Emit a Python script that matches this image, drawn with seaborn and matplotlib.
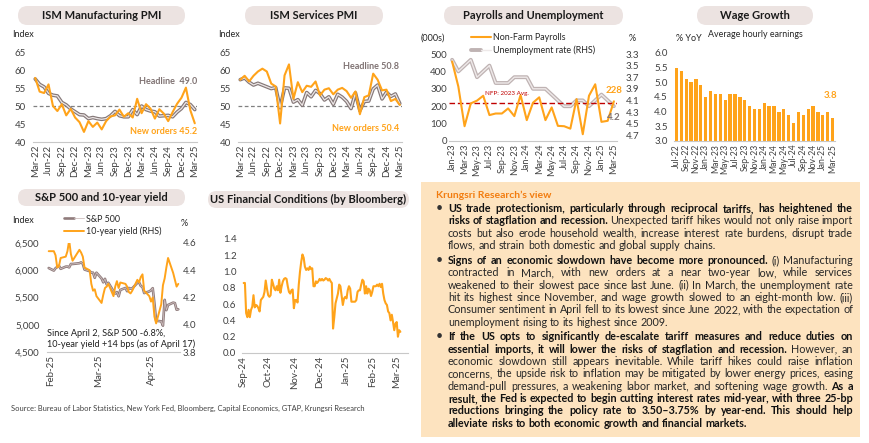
import matplotlib
matplotlib.use("Agg")
import matplotlib.pyplot as plt
import matplotlib.dates as mdates
from matplotlib.lines import Line2D
from matplotlib.legend_handler import HandlerTuple
from matplotlib.patches import FancyBboxPatch, Rectangle
from matplotlib.ticker import FuncFormatter
import seaborn as sns
import numpy as np
import pandas as pd

# ---------------- data ----------------
ism_months = pd.date_range("2022-03-01", "2025-03-01", freq="MS").strftime("%b-%y").tolist()
mfg_headline = [57.5, 56.0, 55.3, 53.5, 53.0, 52.8, 51.0, 50.3, 49.2, 48.4, 47.6, 47.5, 46.5,
                46.8, 46.5, 46.3, 46.5, 47.3, 48.5, 47.3, 47.0, 47.0, 49.0, 47.6, 50.0, 49.0,
                48.6, 48.4, 47.2, 47.3, 47.4, 47.0, 48.3, 49.3, 51.0, 50.4, 49.0]
mfg_orders = [57.8, 54.0, 53.6, 56.0, 50.0, 48.6, 50.5, 47.4, 49.2, 46.8, 45.5, 42.8, 45.8,
              44.2, 45.4, 43.5, 45.8, 47.1, 47.4, 49.0, 47.0, 48.0, 46.8, 52.0, 48.0, 50.5,
              49.3, 46.5, 49.1, 47.9, 45.8, 48.3, 50.6, 52.3, 55.1, 48.8, 45.2]
svc_headline = [57.5, 58.0, 56.8, 56.0, 56.5, 56.0, 55.5, 55.0, 55.3, 49.6, 55.2, 55.1, 51.2,
                51.9, 50.3, 53.9, 52.7, 54.5, 53.6, 51.8, 52.7, 50.6, 53.4, 52.6, 51.4, 49.4,
                53.8, 48.8, 51.4, 51.5, 54.9, 56.0, 52.1, 54.0, 52.8, 53.5, 50.8]
svc_orders = [57.5, 58.6, 57.0, 58.6, 59.8, 60.6, 59.8, 56.4, 55.6, 45.2, 58.7, 61.8, 52.1,
              56.8, 54.0, 55.8, 55.5, 57.0, 53.1, 54.7, 55.1, 53.4, 54.7, 55.2, 54.3, 52.4,
              54.2, 47.8, 52.6, 53.1, 59.2, 57.5, 54.5, 54.7, 51.5, 52.1, 50.4]

nfp_months = pd.date_range("2023-01-01", "2025-03-01", freq="MS").strftime("%b-%y").tolist()
nfp = [457, 313, 85, 216, 232, 260, 149, 158, 158, 187, 143, 264, 120, 220, 251, 120, 193,
       87, 85, 71, 241, 39, 260, 326, 110, 116, 228]
unemp = [3.4, 3.6, 3.5, 3.4, 3.7, 3.6, 3.5, 3.8, 3.8, 3.8, 3.7, 3.7, 3.7, 3.9, 3.9, 3.9, 4.0,
         4.1, 4.2, 4.2, 4.1, 4.1, 4.2, 4.1, 4.0, 4.1, 4.2]
nfp_2023_avg = 216
unemp_ticks = [3.3, 3.5, 3.7, 3.9, 4.1, 4.3, 4.5, 4.7]

wage_months = pd.date_range("2022-07-01", "2025-03-01", freq="MS").strftime("%b-%y").tolist()
wage = [5.5, 5.4, 5.1, 5.0, 5.1, 4.9, 4.5, 4.7, 4.6, 4.6, 4.4, 4.6, 4.6, 4.5, 4.4, 4.2, 4.1,
        4.1, 4.3, 4.2, 4.2, 4.0, 4.1, 3.9, 3.6, 4.0, 3.9, 4.1, 4.2, 4.0, 3.9, 4.0, 3.8]

sp_dates = pd.bdate_range("2025-01-31", "2025-04-17", freq="C", holidays=["2025-02-17"])
sp500 = [6041,
         5994, 6037, 6061, 6083, 6026, 6066, 6068, 6052, 6115, 6115, 6129, 6144, 6118, 6013,
         5983, 5955, 5956, 5861, 5955,
         5850, 5778, 5843, 5739, 5770, 5615, 5572, 5599, 5522, 5639, 5675, 5615, 5675, 5663,
         5668, 5768, 5777, 5712, 5693, 5581, 5612,
         5633, 5671, 5397, 5074, 5062, 4983, 5457, 5268, 5363, 5406, 5397, 5276, 5283]
ust10 = [4.54,
         4.54, 4.51, 4.42, 4.43, 4.49, 4.50, 4.54, 4.62, 4.52, 4.47, 4.55, 4.53, 4.50, 4.42,
         4.40, 4.30, 4.25, 4.26, 4.21,
         4.16, 4.22, 4.27, 4.28, 4.30, 4.21, 4.28, 4.32, 4.27, 4.31, 4.30, 4.28, 4.24, 4.23,
         4.25, 4.33, 4.31, 4.35, 4.37, 4.25, 4.21,
         4.17, 4.20, 4.06, 4.01, 4.15, 4.29, 4.34, 4.42, 4.49, 4.38, 4.33, 4.28, 4.30]

fci = [0.86, 0.86, 0.49, 0.44, 0.53, 0.44, 0.53, 0.57, 0.71, 0.56,
       0.59, 0.58, 0.55, 0.51, 0.65, 0.67, 0.69, 0.75, 0.89, 0.79,
       0.71, 0.69, 0.71, 0.90, 0.85, 0.79, 0.77, 0.82, 0.77, 0.90,
       0.74, 0.82, 0.88, 0.91, 0.92, 0.91, 0.82, 0.75, 0.73, 0.77,
       0.78, 0.55, 0.65, 0.65, 0.62, 0.84, 1.00, 1.12, 1.21, 1.17,
       1.06, 1.02, 1.04, 1.02, 1.06, 1.03, 1.04, 0.82, 0.82, 0.88,
       0.86, 0.88, 0.91, 0.89, 0.91, 0.89, 0.90, 0.92, 0.91, 0.89,
       0.91, 0.88, 0.86, 0.30, 0.44, 0.61, 0.67, 0.73, 0.84, 0.82,
       0.71, 0.59, 0.67, 0.69, 0.67, 0.77, 0.82, 0.79, 0.63, 0.63,
       0.63, 0.63, 0.65, 0.75, 0.77, 0.77, 0.84, 0.90, 0.88, 0.73,
       0.82, 0.73, 0.79, 0.77, 0.70, 0.75, 0.82, 0.82, 0.82, 0.84,
       0.82, 0.85, 0.81, 0.85, 0.73, 0.65, 0.61, 0.59, 0.51, 0.49,
       0.40, 0.47, 0.38, 0.28, 0.36, 0.38, 0.20, 0.28, 0.26]
fci_dates = pd.date_range("2024-09-02", "2025-03-06", periods=len(fci))

# commentary text: paragraphs -> lines -> (text, bold) segments
view_title = "Krungsri Research\u2019s view"
view_text = [
    [[("US trade protectionism, particularly through reciprocal tariffs, has heightened the", True)],
     [("risks of stagflation and recession.", True), ("Unexpected tariff hikes would not only raise import", False)],
     [("costs but also erode household wealth, increase interest rate burdens, disrupt trade", False)],
     [("flows, and strain both domestic and global supply chains.", False)]],
    [[("Signs of an economic slowdown have become more pronounced.", True), ("(i) Manufacturing", False)],
     [("contracted in March, with new orders at a near two-year low, while services", False)],
     [("weakened to their slowest pace since last June. (ii) In March, the unemployment rate", False)],
     [("hit its highest since November, and wage growth slowed to an eight-month low. (iii)", False)],
     [("Consumer sentiment in April fell to its lowest since June 2022, with the expectation of", False)],
     [("unemployment rising to its highest since 2009.", False)]],
    [[("If the US opts to significantly de-escalate tariff measures and reduce duties on", True)],
     [("essential imports, it will lower the risks of stagflation and recession.", True), ("However, an", False)],
     [("economic slowdown still appears inevitable. While tariff hikes could raise inflation", False)],
     [("concerns, the upside risk to inflation may be mitigated by lower energy prices, easing", False)],
     [("demand-pull pressures, a weakening labor market, and softening wage growth.", False), ("As a", True)],
     [("result, the Fed is expected to begin cutting interest rates mid-year, with three 25-bp", True)],
     [("reductions bringing the policy rate to 3.50\u20133.75% by year-end. This should help", True)],
     [("alleviate risks to both economic growth and financial markets.", True)]],
]
source_text = ("Source: Bureau of Labor Statistics, New York Fed, Bloomberg, Capital Economics, "
               "GTAP, Krungsri Research")

# ---------------- style ----------------
sns.set_theme(style="white")
plt.rcParams["font.family"] = ["Lato", "DejaVu Sans"]

ORANGE = "#FFA31A"
HEAD_OUT, HEAD_IN = "#857878", "#ece6e6"
UR_OUT, UR_IN = "#bfb3b3", "#eee9e9"
SP_OUT, SP_IN = "#8f7b7b", "#cdbebe"
TICK = "#404040"
W, H = 870, 443

fig = plt.figure(figsize=(W / 100, H / 100), dpi=100)
fig.patch.set_facecolor("white")


def px_axes(l, t, r, b):
    return fig.add_axes([l / W, 1 - b / H, (r - l) / W, (b - t) / H])


def style(ax, ypad=4, xsize=7):
    sns.despine(ax=ax, left=True, top=True, right=True)
    ax.spines["bottom"].set_color("#c8c8c8")
    ax.spines["bottom"].set_linewidth(0.8)
    ax.tick_params(length=0, labelsize=7, labelcolor=TICK)
    ax.tick_params(axis="x", labelrotation=90, pad=2, labelsize=xsize)
    ax.tick_params(axis="y", pad=ypad)
    ax.set_xlabel("")
    ax.set_ylabel("")
    ax.set_facecolor("none")


def ism_panel(ax, headline, orders):
    x = np.arange(len(headline))
    ax.axhline(50, color="#808080", ls=(0, (3, 2)), lw=0.9, zorder=1)
    sns.lineplot(x=x, y=headline, ax=ax, color=HEAD_OUT, lw=2.6, zorder=2)
    sns.lineplot(x=x, y=headline, ax=ax, color=HEAD_IN, lw=0.9, zorder=3)
    sns.lineplot(x=x, y=orders, ax=ax, color=ORANGE, lw=1.5, zorder=4)
    ax.set_xlim(-0.5, len(x) - 0.5)
    ax.set_ylim(40, 65)
    ax.set_yticks(range(40, 66, 5))
    ax.set_xticks(x[::3], labels=ism_months[::3])
    style(ax, ypad=5)


# ISM manufacturing / services
ax1 = px_axes(33, 52, 197, 142)
ism_panel(ax1, mfg_headline, mfg_orders)
ax2 = px_axes(238, 53, 402, 142)
ism_panel(ax2, svc_headline, svc_orders)

# Payrolls and unemployment
ax3 = px_axes(449, 54, 617, 141)
ax3b = ax3.twinx()
xn = np.arange(len(nfp))
sns.lineplot(x=xn, y=unemp, ax=ax3b, color=UR_OUT, lw=2.8)
sns.lineplot(x=xn, y=unemp, ax=ax3b, color=UR_IN, lw=1.0)
ax3b.set_ylim(4.8, 3.3)
ax3b.set_yticks(unemp_ticks)
ax3b.yaxis.set_major_formatter(FuncFormatter(lambda v, p: f"{v:.1f}"))
ax3.axhline(nfp_2023_avg, color="#C00000", ls=(0, (4, 2)), lw=1.0, zorder=1)
sns.lineplot(x=xn, y=nfp, ax=ax3, color=ORANGE, lw=1.5, zorder=3)
ax3.set_zorder(ax3b.get_zorder() + 1)
ax3.set_xlim(-0.5, len(xn) - 0.5)
ax3.set_ylim(0, 500)
ax3.set_yticks(range(0, 501, 100))
ax3.set_xticks(xn[::2], labels=nfp_months[::2])
style(ax3, ypad=1.5, xsize=6.6)
style(ax3b, ypad=6)
ax3b.spines["bottom"].set_visible(False)

h_nfp = Line2D([], [], color=ORANGE, lw=1.5)
h_ur = (Line2D([], [], color=UR_OUT, lw=2.8), Line2D([], [], color=UR_IN, lw=1.0))
ax3.legend([h_nfp, h_ur], ["Non-Farm Payrolls", "Unemployment rate (RHS)"],
           handler_map={tuple: HandlerTuple(ndivide=None)}, loc="upper left",
           bbox_to_anchor=(471 / W, 1 - 33.5 / H), bbox_transform=fig.transFigure,
           frameon=False, fontsize=6.4, handlelength=2.2, handletextpad=0.3,
           labelspacing=0.3, borderpad=0, borderaxespad=0, labelcolor="#262626")

# Wage growth
ax4 = px_axes(674, 53, 835, 141)
sns.barplot(x=wage_months, y=wage, ax=ax4, color=ORANGE, saturation=1, width=0.68,
            linewidth=0, edgecolor="none")
ax4.set_ylim(3.0, 6.0)
ax4.set_yticks(np.arange(3.0, 6.01, 0.5))
ax4.yaxis.set_major_formatter(FuncFormatter(lambda v, p: f"{v:.1f}"))
ax4.set_xlim(-0.5, len(wage) - 0.5)
ax4.set_xticks(range(0, len(wage), 2), labels=wage_months[::2])
style(ax4, ypad=4.5, xsize=6.2)

# S&P 500 and 10-year yield
ax5 = px_axes(47, 243, 180, 352)
ax5b = ax5.twinx()
sns.lineplot(x=sp_dates, y=ust10, ax=ax5b, color=ORANGE, lw=1.4)
sns.lineplot(x=sp_dates, y=sp500, ax=ax5, color=SP_OUT, lw=1.9)
sns.lineplot(x=sp_dates, y=sp500, ax=ax5, color=SP_IN, lw=0.6)
ax5.set_ylim(4500, 6500)
ax5.set_yticks(range(4500, 6501, 500))
ax5.yaxis.set_major_formatter(FuncFormatter(lambda v, p: f"{v:,.0f}"))
ax5b.set_ylim(3.8, 4.6)
ax5b.set_yticks([3.8, 4.0, 4.2, 4.4, 4.6])
ax5b.yaxis.set_major_formatter(FuncFormatter(lambda v, p: f"{v:.1f}"))
ax5.set_xlim(pd.Timestamp("2025-01-30"), pd.Timestamp("2025-04-18"))
ax5.xaxis.set_major_locator(mdates.MonthLocator())
ax5.xaxis.set_major_formatter(mdates.DateFormatter("%b-%y"))
style(ax5, ypad=5.5)
style(ax5b, ypad=2)
ax5b.spines["bottom"].set_visible(False)
h_sp = (Line2D([], [], color=SP_OUT, lw=1.9), Line2D([], [], color=SP_IN, lw=0.6))
h_y = Line2D([], [], color=ORANGE, lw=1.4)
ax5.legend([h_sp, h_y], ["S&P 500", "10-year yield (RHS)"],
           handler_map={tuple: HandlerTuple(ndivide=None)}, loc="upper left",
           bbox_to_anchor=(64 / W, 1 - 214.5 / H), bbox_transform=fig.transFigure,
           frameon=False, fontsize=6.4, handlelength=2.2, handletextpad=0.3,
           labelspacing=0.3, borderpad=0, borderaxespad=0, labelcolor="#262626")

# US financial conditions
ax6 = px_axes(242, 239, 408, 353)
sns.lineplot(x=fci_dates, y=fci, ax=ax6, color=ORANGE, lw=1.5)
ax6.set_ylim(0, 1.4)
ax6.set_yticks(np.arange(0, 1.41, 0.2))
ax6.yaxis.set_major_formatter(FuncFormatter(lambda v, p: f"{v:.1f}"))
ax6.set_xlim(pd.Timestamp("2024-08-31"), pd.Timestamp("2025-03-15"))
ax6.xaxis.set_major_locator(mdates.MonthLocator())
ax6.xaxis.set_major_formatter(mdates.DateFormatter("%b-%y"))
style(ax6, ypad=4)

# ---------------- overlay: titles, labels, text box ----------------
ov = fig.add_axes([0, 0, 1, 1], zorder=10)
ov.set_xlim(0, W)
ov.set_ylim(H, 0)
ov.axis("off")
ov.set_facecolor("none")

PILL = "#ECE3E1"
pills = [((18, 6, 167, 19), "ISM Manufacturing PMI"),
         ((245, 6, 138, 19), "ISM Services PMI"),
         ((444, 6, 179, 19), "Payrolls and Unemployment"),
         ((697, 6, 116, 19), "Wage Growth"),
         ((18, 189, 167, 17), "S&P 500 and 10-year yield"),
         ((208, 191, 201, 17), "US Financial Conditions (by Bloomberg)")]
for (x0, y0, w, h), label in pills:
    ov.add_patch(FancyBboxPatch((x0, y0), w, h, boxstyle=f"round,pad=0,rounding_size={h / 2}",
                                facecolor=PILL, edgecolor="none"))
    ov.text(x0 + w / 2, y0 + h / 2, label, ha="center", va="center", fontsize=8,
            fontweight="bold", color="#1a1a1a")

small = dict(fontsize=6.5, color="#262626", va="center")
ov.text(12, 34, "Index", **small)
ov.text(218, 34, "Index", **small)
ov.text(421, 38, "(000s)", **small)
ov.text(632, 38, "%", ha="center", **small)
ov.text(676, 38, "% YoY", **small)
ov.text(755, 34, "Average hourly earnings", ha="center", fontsize=6.4, color="#262626", va="center")
ov.text(12, 220, "Index", **small)
ov.text(184, 223, "%", ha="center", **small)

ov.text(197, 81, "Headline  49.0", ha="right", va="center", fontsize=6.5, fontweight="bold", color="#7f7272")
ov.text(197, 132, "New orders 45.2", ha="right", va="center", fontsize=6.5, fontweight="bold", color=ORANGE)
ov.text(399, 66, "Headline 50.8", ha="right", va="center", fontsize=6.5, fontweight="bold", color="#7f7272")
ov.text(399, 128, "New orders 50.4", ha="right", va="center", fontsize=6.5, fontweight="bold", color=ORANGE)
ov.text(614, 90, "228", ha="center", va="center", fontsize=7, fontweight="bold", color=ORANGE)
ov.text(614, 117, "4.2", ha="center", va="center", fontsize=7, fontweight="bold", color="#7f7272")
ov.text(485, 93, "NFP: 2023 Avg.", ha="left", va="center", fontsize=4.5, color="#C00000")
ov.text(831, 95, "3.8", ha="center", va="center", fontsize=7, fontweight="bold", color=ORANGE)
ov.text(47, 333, "Since April 2, S&P 500 -6.8%,", ha="left", va="center", fontsize=6.6, color="#1f1f1f")
ov.text(47, 344.5, "10-year yield +14 bps (as of April 17)", ha="left", va="center", fontsize=6.6, color="#1f1f1f")
ov.text(11, 408, source_text, ha="left", va="center", fontsize=5.4, color="#404040")

# commentary box
ov.add_patch(Rectangle((421, 182), 439, 255, facecolor="#FDE3BF", edgecolor="none"))
ov.text(436, 195, view_title, ha="left", va="center", fontsize=7.5, fontweight="bold", color="#F27C0F")

renderer = fig.canvas.get_renderer()


def text_width(s, bold, size):
    t = ov.text(0, 0, s, fontsize=size, fontweight="bold" if bold else "normal")
    w = t.get_window_extent(renderer).width
    t.remove()
    return w


X0, X1 = 448, 853
base = 8.0
space_base = text_width("a a", False, base) - text_width("aa", False, base)
natural = []
for para in view_text:
    for line in para[:-1]:
        words = [(w, b) for seg, b in line for w in seg.split()]
        tot = sum(text_width(w, b, base) for w, b in words)
        natural.append(tot + (len(words) - 1) * space_base * 0.8)
size = min(base, base * (X1 - X0) / max(natural) * 0.995)
space = text_width("a a", False, size) - text_width("aa", False, size)

starts = [209, 261, 337.5]
step = 12.3
for para, y0 in zip(view_text, starts):
    ov.text(439, y0 + 3, "\u2022", ha="center", va="baseline", fontsize=9, color="#333333")
    for i, line in enumerate(para):
        y = y0 + i * step + 3
        words = [(w, b) for seg, b in line for w in seg.split()]
        widths = [text_width(w, b, size) for w, b in words]
        justify = i < len(para) - 1
        gap = (X1 - X0 - sum(widths)) / (len(words) - 1) if justify else space
        x = X0
        for (w, b), wd in zip(words, widths):
            ov.text(x, y, w, ha="left", va="baseline", fontsize=size,
                    fontweight="bold" if b else "normal",
                    color="#111111" if b else "#262626")
            x += wd + gap

fig.savefig("out.png", dpi=100)
